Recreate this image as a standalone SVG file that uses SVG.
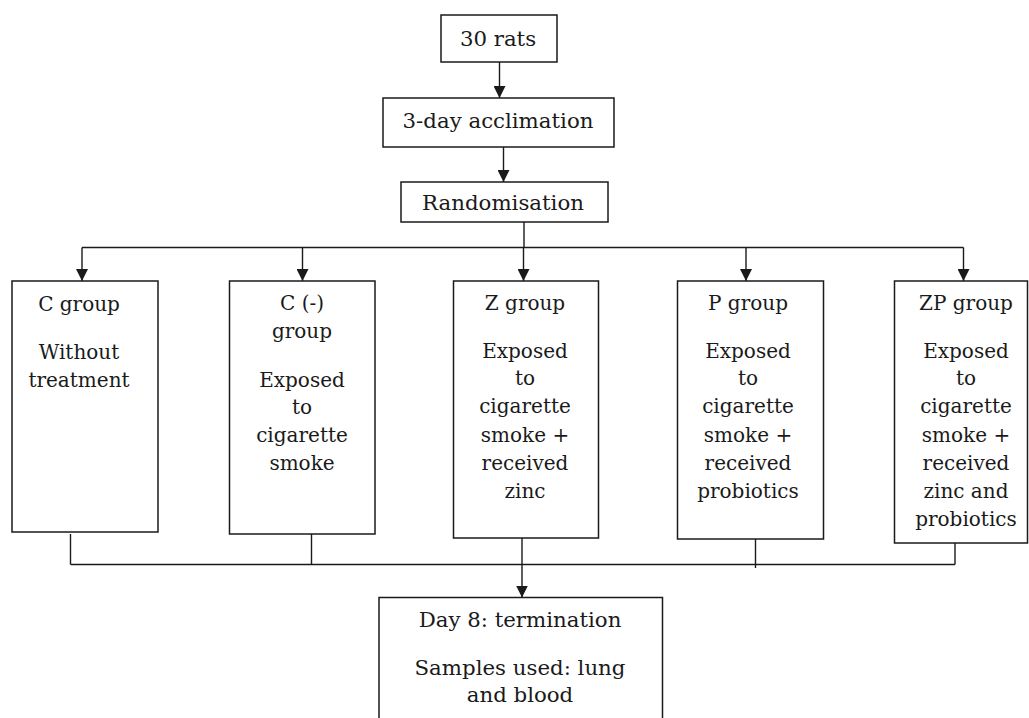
<svg xmlns="http://www.w3.org/2000/svg" width="1029" height="718" viewBox="0 0 1029 718">
<defs>
<marker id="ah" viewBox="0 0 12 12" refX="12" refY="6" markerWidth="12" markerHeight="12" markerUnits="userSpaceOnUse" orient="auto">
<path d="M0,0 L12,6 L0,12 z" fill="#1a1a1a"/>
</marker>
</defs>
<style>
.box{fill:#fff;stroke:#1a1a1a;stroke-width:1.5}
.ln{fill:none;stroke:#1a1a1a;stroke-width:1.4}
.ar{fill:none;stroke:#1a1a1a;stroke-width:1.4;marker-end:url(#ah)}
text{font-family:"DejaVu Serif","Liberation Serif",serif;font-size:20px;fill:#1a1a1a;text-anchor:middle}
.big{font-size:21.3px}
</style>
<rect width="1029" height="718" fill="#fff"/>
<g id="connectors">
<line class="ar" x1="499.5" y1="62" x2="499.5" y2="98"/>
<line class="ar" x1="503.5" y1="147" x2="503.5" y2="182"/>
<polyline class="ln" points="524,222 524,247.5"/>
<line class="ln" x1="82" y1="247.5" x2="963.5" y2="247.5"/>
<line class="ar" x1="82" y1="247.5" x2="82" y2="281"/>
<line class="ar" x1="302.5" y1="247.5" x2="302.5" y2="281"/>
<line class="ar" x1="523.5" y1="247.5" x2="523.5" y2="281"/>
<line class="ar" x1="746" y1="247.5" x2="746" y2="281"/>
<line class="ar" x1="963.5" y1="247.5" x2="963.5" y2="281"/>
<line class="ln" x1="70.5" y1="534" x2="70.5" y2="564.5"/>
<line class="ln" x1="311.5" y1="534" x2="311.5" y2="564.5"/>
<line class="ln" x1="755.5" y1="539" x2="755.5" y2="568"/>
<line class="ln" x1="955" y1="543" x2="955" y2="564.5"/>
<line class="ln" x1="70.5" y1="564.5" x2="955" y2="564.5"/>
<line class="ar" x1="522" y1="535" x2="522" y2="597.5"/>
</g>
<g id="n_rats">
<rect class="box" x="441" y="15" width="116" height="47"/>
<text class="big" x="498" y="45.5">30 rats</text>
</g>
<g id="n_acclimation">
<rect class="box" x="383" y="98" width="231" height="49"/>
<text class="big" x="498" y="128">3-day acclimation</text>
</g>
<g id="n_random">
<rect class="box" x="401" y="182" width="207" height="40"/>
<text class="big" x="503" y="210">Randomisation</text>
</g>
<g id="n_c">
<rect class="box" x="12" y="281" width="146" height="251"/>
<text x="79" y="310.5">C group</text>
<text x="79" y="358.5">Without</text>
<text x="79" y="386.5">treatment</text>
</g>
<g id="n_cneg">
<rect class="box" x="229.5" y="281" width="145.5" height="253"/>
<text x="302" y="310">C (-)</text>
<text x="302" y="338">group</text>
<text x="302" y="386.5">Exposed</text>
<text x="302" y="414">to</text>
<text x="302" y="442">cigarette</text>
<text x="302" y="470">smoke</text>
</g>
<g id="n_z">
<rect class="box" x="453.5" y="281" width="145" height="257"/>
<text x="525" y="310">Z group</text>
<text x="525" y="357.5">Exposed</text>
<text x="525" y="385">to</text>
<text x="525" y="413">cigarette</text>
<text x="525" y="441.5">smoke +</text>
<text x="525" y="469.5">received</text>
<text x="525" y="497.5">zinc</text>
</g>
<g id="n_p">
<rect class="box" x="677.5" y="281" width="146" height="258"/>
<text x="748" y="310">P group</text>
<text x="748" y="357.5">Exposed</text>
<text x="748" y="385">to</text>
<text x="748" y="413">cigarette</text>
<text x="748" y="441.5">smoke +</text>
<text x="748" y="469.5">received</text>
<text x="748" y="497.5">probiotics</text>
</g>
<g id="n_zp">
<rect class="box" x="894.5" y="281" width="133" height="262"/>
<text x="966" y="310">ZP group</text>
<text x="966" y="357.5">Exposed</text>
<text x="966" y="385">to</text>
<text x="966" y="413">cigarette</text>
<text x="966" y="441.5">smoke +</text>
<text x="966" y="469.5">received</text>
<text x="966" y="497.5">zinc and</text>
<text x="966" y="526">probiotics</text>
</g>
<g id="n_day8">
<rect class="box" x="379" y="597.5" width="283.5" height="140"/>
<text class="big" x="520" y="627">Day 8: termination</text>
<text class="big" x="520" y="675">Samples used: lung</text>
<text class="big" x="520" y="702">and blood</text>
</g>
</svg>
